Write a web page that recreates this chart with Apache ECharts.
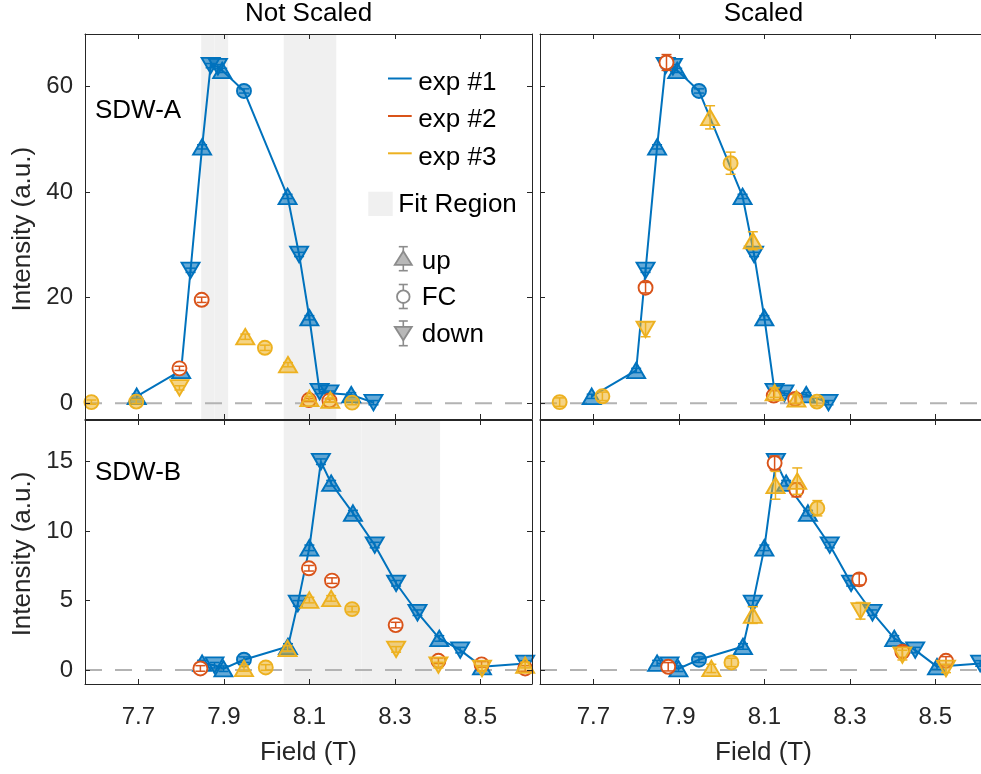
<!DOCTYPE html>
<html>
<head>
<meta charset="utf-8">
<script src="https://cdn.jsdelivr.net/npm/echarts@6/dist/echarts.min.js"></script>
<style>
  html, body { margin: 0; padding: 0; background: #ffffff; }
  #chart { width: 981px; height: 774px; }
</style>
</head>
<body>
<div id="chart"></div>
<script>
// ---------- axes ----------
const X_MIN = 7.575, X_MAX = 8.621;
const X_TICKS = [7.7, 7.9, 8.1, 8.3, 8.5];
const YA_MIN = -3, YA_MAX = 70;
const YA_TICKS = [0, 20, 40, 60];
const YB_MIN = -1, YB_MAX = 18;
const YB_TICKS = [0, 5, 10, 15];

// ---------- SDW-A ----------
// exp #1 (reference run, identical in both panels)
const a1Field = [7.696, 7.800, 7.822, 7.849, 7.869, 7.886, 7.896, 7.947, 8.049, 8.076, 8.100, 8.124, 8.147, 8.198, 8.250];
const a1Int   = [1.3, 6.2, 25.2, 48.6, 64.0, 63.8, 63.1, 59.2, 39.2, 28.2, 16.2, 2.2, 1.9, 1.6, 0.1];
const a1Err   = [0.4, 0.4, 0.4, 0.4, 0.4, 0.4, 0.4, 0.4, 0.4, 0.4, 0.4, 0.4, 0.4, 0.4, 0.4];
const a1Sweep = ['up', 'up', 'down', 'up', 'down', 'down', 'up', 'fc', 'up', 'down', 'up', 'down', 'down', 'up', 'down'];

// exp #2, raw
const a2Field = [7.796, 7.848, 8.099, 8.147];
const a2Int   = [6.6, 19.6, 0.6, 0.5];
const a2Err   = [0.4, 0.5, 0.3, 0.3];
const a2Sweep = ['fc', 'fc', 'fc', 'fc'];
// exp #2, scaled
const a2sField = [7.822, 7.871, 8.122, 8.172];
const a2sInt   = [21.9, 64.6, 1.45, 0.8];
const a2sErr   = [1.0, 1.5, 0.9, 0.9];

// exp #3, raw
const a3Field = [7.590, 7.695, 7.796, 7.950, 7.996, 8.050, 8.100, 8.149, 8.200];
const a3Int   = [0.2, 0.3, 2.9, 12.6, 10.5, 7.3, 0.9, 0.6, 0.1];
const a3Err   = [0.4, 0.4, 0.4, 0.5, 0.5, 0.4, 0.4, 0.4, 0.4];
const a3Sweep = ['fc', 'fc', 'down', 'up', 'fc', 'up', 'up', 'up', 'fc'];
// exp #3, scaled
const a3sField = [7.621, 7.721, 7.822, 7.973, 8.021, 8.073, 8.124, 8.175, 8.223];
const a3sInt   = [0.2, 1.3, 14.0, 54.2, 45.5, 30.8, 2.0, 0.8, 0.3];
const a3sErr   = [0.8, 0.8, 1.4, 2.2, 2.1, 1.7, 0.9, 0.8, 0.8];

// ---------- SDW-B ----------
const b1Field = [7.849, 7.878, 7.899, 7.947, 8.050, 8.073, 8.100, 8.127, 8.151, 8.202, 8.253, 8.303, 8.353, 8.404, 8.453, 8.504, 8.605];
const b1Int   = [0.5, 0.35, 0.1, 0.75, 1.7, 4.8, 8.8, 15.0, 13.45, 11.3, 9.0, 6.25, 4.13, 2.28, 1.44, 0.25, 0.48];
const b1Err   = [0.2, 0.2, 0.2, 0.2, 0.2, 0.2, 0.2, 0.2, 0.2, 0.2, 0.2, 0.2, 0.2, 0.2, 0.2, 0.2, 0.2];
const b1Sweep = ['up', 'down', 'up', 'fc', 'up', 'down', 'up', 'down', 'up', 'up', 'down', 'down', 'down', 'up', 'down', 'up', 'down'];

const b2Field = [7.845, 8.099, 8.153, 8.302, 8.402, 8.503, 8.605];
const b2Int   = [0.12, 7.33, 6.44, 3.24, 0.67, 0.41, 0.12];
const b2Err   = [0.2, 0.2, 0.2, 0.2, 0.2, 0.2, 0.2];
const b2Sweep = ['fc', 'fc', 'fc', 'fc', 'fc', 'fc', 'fc'];
const b2sField = [7.875, 8.124, 8.175, 8.322, 8.423, 8.525];
const b2sInt   = [0.24, 14.9, 12.97, 6.53, 1.32, 0.67];
const b2sErr   = [0.3, 0.5, 0.5, 0.4, 0.4, 0.3];

const b3Field = [7.947, 7.998, 8.049, 8.100, 8.151, 8.200, 8.303, 8.402, 8.504, 8.605];
const b3Int   = [0.12, 0.19, 1.56, 5.04, 5.16, 4.39, 1.49, 0.36, 0.12, 0.36];
const b3Err   = [0.2, 0.2, 0.2, 0.2, 0.2, 0.2, 0.2, 0.2, 0.2, 0.2];
const b3Sweep = ['up', 'fc', 'up', 'up', 'up', 'fc', 'down', 'down', 'down', 'up'];
const b3sField = [7.976, 8.023, 8.073, 8.126, 8.177, 8.224, 8.325, 8.423, 8.525];
const b3sInt   = [0.12, 0.55, 3.96, 13.3, 13.6, 11.65, 4.27, 1.08, 0.12];
const b3sErr   = [0.3, 0.3, 0.6, 1.0, 0.95, 0.55, 0.6, 0.35, 0.3];
const b3sSweep = ['up', 'fc', 'up', 'up', 'up', 'fc', 'down', 'down', 'down'];

// fit windows (field ranges)
const fitA = [[7.847, 7.878], [7.878, 7.910], [8.040, 8.163]];
const fitB = [[8.040, 8.222], [8.222, 8.406]];

// ---------- styling ----------
const FONT = 'Arial, "Liberation Sans", Helvetica, sans-serif';
const AX = '#262626';
const BLUE = '#0072BD', RED = '#D95319', YELLOW = '#EDB120';
const FILL = { blue: 'rgba(0,114,189,0.6)', red: '#ffffff', yellow: 'rgba(237,177,32,0.55)' };
const UP = 'path://M5,0L10,8.66L0,8.66Z';
const DOWN = 'path://M0,0L10,0L5,8.66Z';

function rows(field, inten, err, sweep) {
  return field.map((x, i) => [x, inten[i], err[i], sweep[i]]);
}

function markerItems(rs) {
  return rs.map(r => ({
    value: [r[0], r[1]],
    symbol: r[3] === 'fc' ? 'circle' : (r[3] === 'up' ? UP : DOWN),
    symbolSize: r[3] === 'fc' ? 14 : [18, 15.5]
  }));
}

function scatterSeries(rs, g, color, fill, z) {
  return {
    type: 'scatter', xAxisIndex: 2 * g, yAxisIndex: 2 * g, z: z, silent: true,
    data: markerItems(rs),
    itemStyle: { color: fill, borderColor: color, borderWidth: 1.9, opacity: 1 }
  };
}

function errSeries(rs, g, color, z) {
  return {
    type: 'custom', xAxisIndex: 2 * g, yAxisIndex: 2 * g, z: z, silent: true,
    data: rs.map(r => [r[0], r[1] - r[2], r[1] + r[2]]),
    encode: { x: 0, y: [1, 2] },
    renderItem(params, api) {
      const lo = api.coord([api.value(0), api.value(1)]);
      const hi = api.coord([api.value(0), api.value(2)]);
      const w = 5;
      const st = { stroke: color, lineWidth: 1.5 };
      return {
        type: 'group', children: [
          { type: 'line', shape: { x1: lo[0], y1: lo[1], x2: hi[0], y2: hi[1] }, style: st },
          { type: 'line', shape: { x1: lo[0] - w, y1: lo[1], x2: lo[0] + w, y2: lo[1] }, style: st },
          { type: 'line', shape: { x1: hi[0] - w, y1: hi[1], x2: hi[0] + w, y2: hi[1] }, style: st }
        ]
      };
    }
  };
}

function lineSeries(rs, g) {
  return {
    type: 'line', xAxisIndex: 2 * g, yAxisIndex: 2 * g, z: 2, silent: true,
    symbol: 'none', data: rs.map(r => [r[0], r[1]]),
    lineStyle: { color: BLUE, width: 2 }
  };
}

function zeroSeries(g) {
  return {
    type: 'line', xAxisIndex: 2 * g, yAxisIndex: 2 * g, z: 1, silent: true,
    symbol: 'none', data: [[X_MIN, 0], [X_MAX, 0]],
    lineStyle: { color: '#b3b3b3', width: 2, type: [17, 13] }
  };
}

function fitSeries(regions, g) {
  return {
    type: 'custom', xAxisIndex: 2 * g, yAxisIndex: 2 * g, z: 0, silent: true,
    data: regions, encode: { x: [0, 1] },
    renderItem(params, api) {
      const cs = params.coordSys;
      const a = api.coord([api.value(0), 0])[0];
      const b = api.coord([api.value(1), 0])[0];
      return { type: 'rect', shape: { x: a, y: cs.y, width: b - a, height: cs.height }, style: { fill: '#f0f0f0' } };
    }
  };
}

function xAxes(g, labels) {
  const base = {
    type: 'value', gridIndex: g, min: X_MIN, max: X_MAX, z: 10,
    axisLine: { show: true, onZero: false, lineStyle: { color: AX, width: 1 } },
    axisTick: { show: true, inside: true, length: 5, customValues: X_TICKS, lineStyle: { color: AX, width: 1 } },
    splitLine: { show: false }
  };
  return [
    Object.assign({}, base, {
      position: 'bottom',
      axisLabel: { show: labels, customValues: X_TICKS, formatter: v => v.toFixed(1), margin: 21,
        fontSize: 24, fontFamily: FONT, color: AX }
    }),
    Object.assign({}, base, { position: 'top', axisLabel: { show: false } })
  ];
}

function yAxes(g, min, max, ticks, labels) {
  const base = {
    type: 'value', gridIndex: g, min: min, max: max, z: 10,
    axisLine: { show: true, onZero: false, lineStyle: { color: AX, width: 1 } },
    axisTick: { show: true, inside: true, length: 5, customValues: ticks, lineStyle: { color: AX, width: 1 } },
    splitLine: { show: false }
  };
  return [
    Object.assign({}, base, {
      position: 'left',
      axisLabel: { show: labels, customValues: ticks, margin: 12, fontSize: 24, fontFamily: FONT, color: AX,
        padding: [5, 0, 0, 0] }
    }),
    Object.assign({}, base, { position: 'right', axisLabel: { show: false } })
  ];
}

// ---------- panels ----------
const A1 = rows(a1Field, a1Int, a1Err, a1Sweep);
const A2 = rows(a2Field, a2Int, a2Err, a2Sweep);
const A2s = rows(a2sField, a2sInt, a2sErr, a2Sweep);
const A3 = rows(a3Field, a3Int, a3Err, a3Sweep);
const A3s = rows(a3sField, a3sInt, a3sErr, a3Sweep);
const B1 = rows(b1Field, b1Int, b1Err, b1Sweep);
const B2 = rows(b2Field, b2Int, b2Err, b2Sweep);
const B2s = rows(b2sField, b2sInt, b2sErr, b2Sweep.slice(0, b2sField.length));
const B3 = rows(b3Field, b3Int, b3Err, b3Sweep);
const B3s = rows(b3sField, b3sInt, b3sErr, b3sSweep);

const panels = [
  { g: 0, e1: A1, e2: A2, e3: A3, fit: fitA },
  { g: 1, e1: A1, e2: A2s, e3: A3s },
  { g: 2, e1: B1, e2: B2, e3: B3, fit: fitB },
  { g: 3, e1: B1, e2: B2s, e3: B3s }
];

const series = [];
panels.forEach(p => {
  if (p.fit) series.push(fitSeries(p.fit, p.g));
  series.push(zeroSeries(p.g));
  series.push(lineSeries(p.e1, p.g));
  series.push(scatterSeries(p.e1, p.g, BLUE, FILL.blue, 3));
  series.push(errSeries(p.e1, p.g, BLUE, 4));
  series.push(scatterSeries(p.e2, p.g, RED, FILL.red, 5));
  series.push(errSeries(p.e2, p.g, RED, 6));
  series.push(scatterSeries(p.e3, p.g, YELLOW, FILL.yellow, 7));
  series.push(errSeries(p.e3, p.g, YELLOW, 8));
});

// ---------- text & legend ----------
function txt(x, y, s, size, opts) {
  return Object.assign({
    type: 'text', x: x, y: y, silent: true, z: 20,
    style: Object.assign({ text: s, fontSize: size, fontFamily: FONT, fill: '#000000',
      align: 'left', verticalAlign: 'middle' }, (opts && opts.style) || {})
  }, (opts && opts.el) || {});
}

const GRAY_E = '#8c8c8c', GRAY_F = '#b8b8b8';
function legendMarker(cx, cy, kind, capTop, capBot) {
  const els = [
    { type: 'line', shape: { x1: cx, y1: capTop, x2: cx, y2: capBot }, style: { stroke: GRAY_E, lineWidth: 1.6 } },
    { type: 'line', shape: { x1: cx - 4.5, y1: capTop, x2: cx + 4.5, y2: capTop }, style: { stroke: GRAY_E, lineWidth: 1.6 } },
    { type: 'line', shape: { x1: cx - 4.5, y1: capBot, x2: cx + 4.5, y2: capBot }, style: { stroke: GRAY_E, lineWidth: 1.6 } }
  ];
  if (kind === 'fc') {
    els.push({ type: 'circle', shape: { cx: cx, cy: cy, r: 6.3 }, style: { fill: '#ffffff', stroke: GRAY_E, lineWidth: 1.8 } });
  } else if (kind === 'up') {
    els.push({ type: 'polygon', shape: { points: [[cx, cy - 7], [cx + 8.5, cy + 6.5], [cx - 8.5, cy + 6.5]] },
      style: { fill: GRAY_F, stroke: GRAY_E, lineWidth: 1.8 } });
  } else {
    els.push({ type: 'polygon', shape: { points: [[cx - 8.5, cy - 6.5], [cx + 8.5, cy - 6.5], [cx, cy + 7]] },
      style: { fill: GRAY_F, stroke: GRAY_E, lineWidth: 1.8 } });
  }
  return { type: 'group', silent: true, z: 20, children: els };
}

const legendExp = [['exp #1', BLUE, 78.5, 82.6], ['exp #2', RED, 116, 120.2], ['exp #3', YELLOW, 153.3, 157.5]];

const graphic = [
  txt(308.5, 13.8, 'Not Scaled', 26, { style: { align: 'center' } }),
  txt(763.5, 13.8, 'Scaled', 26, { style: { align: 'center' } }),
  txt(95, 110.5, 'SDW-A', 26),
  txt(95, 472.7, 'SDW-B', 26),
  txt(308.5, 752.5, 'Field (T)', 26, { style: { align: 'center', fill: AX } }),
  txt(763.5, 752.5, 'Field (T)', 26, { style: { align: 'center', fill: AX } }),
  txt(22.7, 229.2, 'Intensity (a.u.)', 26, { style: { align: 'center', fill: AX }, el: { rotation: Math.PI / 2 } }),
  txt(22.7, 554, 'Intensity (a.u.)', 26, { style: { align: 'center', fill: AX }, el: { rotation: Math.PI / 2 } }),
  { type: 'rect', silent: true, z: 20, shape: { x: 368.3, y: 191.7, width: 24.4, height: 24.3 }, style: { fill: '#f0f0f0' } },
  txt(398.3, 204.6, 'Fit Region', 26),
  legendMarker(403.3, 258.3, 'up', 246.7, 270.7),
  txt(421.7, 261.5, 'up', 26),
  legendMarker(403.3, 296.7, 'fc', 284.5, 308.5),
  txt(421.7, 298.3, 'FC', 26),
  legendMarker(403.3, 333.3, 'down', 321, 345.7),
  txt(421.7, 334.4, 'down', 26)
];
legendExp.forEach(([label, color, ly, ty]) => {
  graphic.push({ type: 'line', silent: true, z: 20, shape: { x1: 388, y1: ly, x2: 411.7, y2: ly }, style: { stroke: color, lineWidth: 2 } });
  graphic.push(txt(418.3, ty, label, 26));
});

const chart = echarts.init(document.getElementById('chart'), null, { renderer: 'canvas' });
chart.setOption({
  animation: false,
  backgroundColor: '#ffffff',
  textStyle: { fontFamily: FONT },
  grid: [
    { left: 85, top: 34, width: 447, height: 385, outerBoundsMode: 'none' },
    { left: 540, top: 34, width: 447, height: 385, outerBoundsMode: 'none' },
    { left: 85, top: 420, width: 447, height: 264, outerBoundsMode: 'none' },
    { left: 540, top: 420, width: 447, height: 264, outerBoundsMode: 'none' }
  ],
  xAxis: [].concat(xAxes(0, false), xAxes(1, false), xAxes(2, true), xAxes(3, true)),
  yAxis: [].concat(
    yAxes(0, YA_MIN, YA_MAX, YA_TICKS, true), yAxes(1, YA_MIN, YA_MAX, YA_TICKS, false),
    yAxes(2, YB_MIN, YB_MAX, YB_TICKS, true), yAxes(3, YB_MIN, YB_MAX, YB_TICKS, false)),
  series: series,
  graphic: graphic
});
</script>
</body>
</html>
